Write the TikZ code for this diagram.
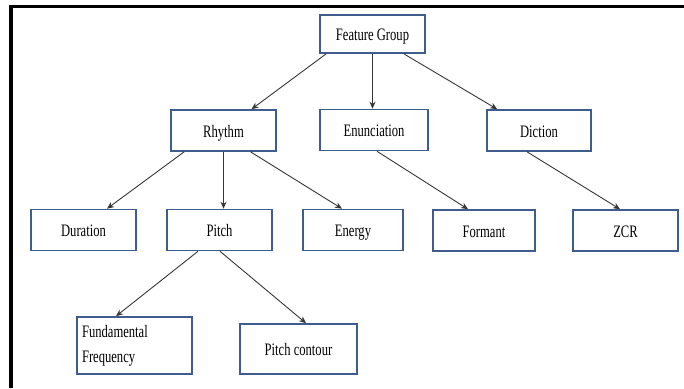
\documentclass[tikz,border=0pt]{standalone}
\usepackage{fontspec}
\setmainfont[FakeStretch=0.72]{Liberation Serif}
\usetikzlibrary{positioning, calc, arrows.meta}

\definecolor{boxblue}{RGB}{62,92,140}
\definecolor{linkgray}{RGB}{55,55,55}

\begin{document}
\begin{tikzpicture}[x=1pt, y=-1pt,
    feat/.style={draw=boxblue, line width=1.6pt, rectangle, inner sep=0pt,
                 minimum width=105pt, minimum height=41pt},
    oneline/.style={feat, text height=15pt, text depth=2pt},
    link/.style={draw=linkgray, line width=0.9pt, -{Stealth[length=7pt, width=6pt]}}]
	\fontsize{17.5}{25}\selectfont
	\useasboundingbox (0,0) rectangle (684,388);
	% frame
	\draw[line width=3.5pt] (684,6.5) -- (11,6.5) -- (11,388);
	% top
	\node[oneline, minimum height=38pt] (fg) at (372.5,34) {Feature Group};
	% second row
	\node[oneline] (rhythm)  at (223.5,130.5) {Rhythm};
	\node[oneline, minimum width=108pt] (enun) at (374,130) {Enunciation};
	\node[oneline, minimum width=104pt] (diction) at (539,130.5) {Diction};
	% third row
	\node[oneline] (duration) at (83.5,230) {Duration};
	\node[oneline] (pitch)    at (219.5,230) {Pitch};
	\node[oneline, minimum width=100pt] (energy) at (353,230) {Energy};
	\node[oneline, minimum width=102pt] (formant) at (484,230.5) {Formant};
	\node[oneline] (zcr)      at (625.5,230.5) {ZCR};
	% fourth row
	\node[feat, text width=105pt, inner xsep=5pt, align=left, minimum height=57pt]
	  (fund) at (134.5,345.5) {Fundamental\\Frequency};
	\node[oneline, minimum width=117pt, minimum height=50pt] (contour) at (298.5,349) {Pitch contour};
	% links
	\draw[link] ([xshift=7pt]fg.south west) -- ([xshift=28pt]rhythm.north);
	\draw[link] (fg.south) -- (fg.south |- enun.north);
	\draw[link] ([xshift=-22pt]fg.south east) -- ([xshift=11pt]diction.north west);
	\draw[link] ([xshift=14pt]rhythm.south west) -- ([xshift=23.5pt]duration.north);
	\draw[link] (rhythm.south) -- (rhythm.south |- pitch.north);
	\draw[link] ([xshift=27pt]rhythm.south) -- ([xshift=-11pt]energy.north);
	\draw[link] ([xshift=3pt]enun.south) -- ([xshift=-16pt]formant.north);
	\draw[link] ([xshift=-12pt]diction.south) -- ([xshift=-5.5pt]zcr.north);
	\draw[link] ([xshift=-21.5pt]pitch.south) -- ([xshift=-18.5pt]fund.north);
	\draw[link] ([xshift=0.5pt]pitch.south) -- ([xshift=7.5pt]contour.north);
\end{tikzpicture}
\end{document}
